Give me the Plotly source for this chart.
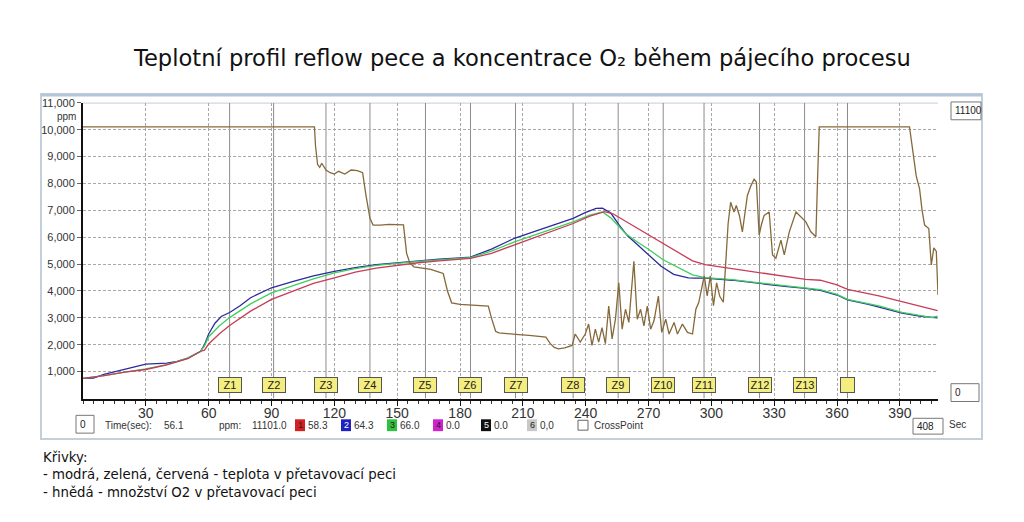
import plotly.graph_objects as go

# --- data ---
zone_names = ["Z1", "Z2", "Z3", "Z4", "Z5", "Z6", "Z7", "Z8", "Z9", "Z10", "Z11", "Z12", "Z13", ""]
zone_times = [70, 91, 116, 137, 163.5, 185, 206.5, 234, 255.5, 277, 296.5, 323, 344.5, 365]

x_ticks = [30, 60, 90, 120, 150, 180, 210, 240, 270, 300, 330, 360, 390]
y_ticks = [1000, 2000, 3000, 4000, 5000, 6000, 7000, 8000, 9000, 10000, 11000]

blue_time = [0, 5, 10, 20, 30, 40, 45, 50, 56, 58, 60, 63, 66, 70, 75, 80, 85, 90, 100, 110,
             120, 130, 140, 150, 160, 170, 180, 185, 195, 206, 215, 225, 234, 240, 245, 248, 252, 256, 260, 265,
             270, 276, 282, 289, 292, 297, 310, 323, 335, 345, 352, 360, 365, 375, 391, 400, 408]
blue_temp = [750, 760, 900, 1100, 1280, 1320, 1380, 1500, 1750, 2000, 2400, 2800, 3050, 3200, 3450, 3750, 3950, 4120, 4350, 4560,
             4730, 4870, 4980, 5050, 5120, 5180, 5230, 5260, 5560, 5960, 6200, 6450, 6700, 6920, 7070, 7080, 6900, 6450, 6050, 5700,
             5350, 4920, 4620, 4490, 4480, 4480, 4400, 4270, 4170, 4100, 4020, 3850, 3670, 3500, 3180, 3060, 3000]

green_time = [0, 10, 20, 30, 40, 50, 56, 58, 60, 65, 70, 80, 90, 100, 110, 120, 130, 140, 150, 160,
              170, 180, 185, 195, 206, 220, 234, 242, 248, 252, 259, 265, 270, 277, 285, 291, 297, 310, 323, 335,
              345, 352, 360, 365, 380, 391, 400, 405, 408]
green_temp = [750, 850, 980, 1100, 1260, 1500, 1750, 1950, 2300, 2700, 3010, 3520, 3930, 4200, 4450, 4670, 4830, 4950, 5030, 5100,
              5160, 5210, 5240, 5480, 5830, 6200, 6570, 6820, 6940, 6720, 6140, 5800, 5550, 5160, 4850, 4600, 4500, 4420, 4300, 4200,
              4120, 4050, 3870, 3690, 3450, 3200, 3080, 3010, 3060]

red_time = [0, 10, 20, 30, 40, 50, 56, 58, 60, 65, 70, 80, 90, 100, 110, 120, 130, 140, 150, 160,
            170, 180, 185, 195, 206, 220, 234, 242, 249, 253, 260, 270, 280, 291, 297, 310, 323, 335, 345, 352,
            360, 365, 380, 391, 400, 408]
red_temp = [750, 850, 980, 1080, 1250, 1480, 1750, 1800, 2030, 2400, 2720, 3250, 3690, 4000, 4280, 4490, 4700, 4850, 4950, 5050,
            5120, 5180, 5210, 5400, 5710, 6100, 6510, 6780, 6950, 6870, 6550, 6100, 5650, 5120, 4980, 4830, 4670, 4530, 4430, 4400,
            4230, 4060, 3820, 3600, 3420, 3270]

o2_time = [0, 110.5, 111, 112, 113, 114, 116, 118, 120, 122,
           125, 128, 131, 133.5, 135, 137, 138.5, 142, 146, 150,
           153, 154.5, 156, 158, 162, 166, 170, 172, 174, 176,
           180, 185, 190, 193.5, 195, 197, 198.5, 203, 208, 213,
           218, 221, 223, 225, 227, 230, 233.5, 235, 237.4, 239.8,
           241.4, 243, 244.6, 246.2, 247.8, 249.4, 251, 252.6, 254.2, 255.8,
           257.4, 259, 260.6, 263, 264.6, 266.2, 267.8, 269.4, 271, 272.6,
           274.7, 276.3, 278.2, 279.8, 282.2, 283.8, 286.2, 288.6, 291, 292.6,
           294, 295, 296.6, 298, 299.5, 301, 302.5, 304, 305.7, 306.8,
           308, 309.2, 310.8, 311.9, 313.4, 314.8, 317.2, 318.8, 320.4, 321.5,
           322.8, 324, 325.2, 327.6, 329.2, 330.8, 333.2, 334.8, 337.2, 340.4,
           342, 345.1, 347.5, 349.9, 350.7, 351.5, 394.6, 396.2, 397.8, 399.4,
           400.6, 401.8, 403.8, 405, 406.2, 407.4, 408.2]
o2_ppm = [10100, 10100, 9400, 8700, 8600, 8750, 8500, 8400, 8350, 8450,
          8350, 8500, 8480, 8400, 7600, 6700, 6450, 6450, 6480, 6470,
          6460, 5400, 5050, 4900, 4850, 4800, 4700, 4650, 4000, 3560,
          3500, 3480, 3470, 3440, 3000, 2500, 2440, 2400, 2380, 2350,
          2300, 2280, 2050, 1900, 1850, 1880, 1975, 2400, 2100, 2400,
          2770, 1975, 2580, 2100, 2640, 2040, 3440, 2220, 2950, 4300,
          2580, 3320, 2830, 5100, 2950, 3320, 2700, 3440, 2580, 2890,
          3810, 2460, 2950, 2400, 2830, 2400, 2770, 2460, 2400, 3320,
          3580, 3930, 4560, 3820, 4560, 3450, 4300, 3800, 3580, 4970,
          6500, 7300, 6940, 7180, 6800, 6200, 7550, 7900, 8160, 8050,
          6080, 6500, 6810, 6940, 5340, 5220, 5890, 5340, 6200, 6940,
          6810, 6570, 6200, 6020, 8160, 10100, 10100, 9260, 8280, 7800,
          7000, 6450, 6320, 4970, 5600, 5470, 3850]

probe_labels = ["1", "2", "3", "4", "5", "6"]
probe_values = ["58.3", "64.3", "66.0", "0.0", "0.0", "0,0"]
probe_colors = ["#d42020", "#2020c0", "#30c040", "#d020d0", "#101010", "#c8c8c8"]

W, H = 1024, 522
OFF = 8  # page body margin of the html page

def px(x):
    return (x - OFF) / W

def py(y):
    return 1 - (y - OFF) / H

fig = go.Figure()

line_w = 1.3
fig.add_trace(go.Scatter(x=blue_time, y=blue_temp, mode="lines", line=dict(color="#2b2b9e", width=line_w)))
fig.add_trace(go.Scatter(x=green_time, y=green_temp, mode="lines", line=dict(color="#3fcf5c", width=line_w)))
fig.add_trace(go.Scatter(x=red_time, y=red_temp, mode="lines", line=dict(color="#c83c58", width=line_w)))
fig.add_trace(go.Scatter(x=o2_time, y=o2_ppm, mode="lines", line=dict(color="#85693a", width=line_w)))

shapes = []
# outer panel of the profiler window
shapes.append(dict(type="rect", xref="paper", yref="paper", x0=px(41), x1=px(982), y0=py(438), y1=py(89),
                   line=dict(color="#c3d0dc", width=2), layer="below"))
shapes.append(dict(type="line", xref="paper", yref="paper", x0=px(41), x1=px(982), y0=py(90), y1=py(90),
                   line=dict(color="#b4c6d8", width=3), layer="below"))
# solid zone boundaries
for t in zone_times:
    shapes.append(dict(type="line", xref="x", yref="y", x0=t, x1=t, y0=0, y1=11000,
                       line=dict(color="#8c8c8c", width=1), layer="below"))
# top border
shapes.append(dict(type="line", xref="x", yref="y", x0=0, x1=408.2, y0=11000, y1=11000,
                   line=dict(color="#8c8c8c", width=1), layer="below"))

annotations = []
font_ui = "Liberation Sans"
for name, t in zip(zone_names, zone_times):
    annotations.append(dict(x=t, y=520, xref="x", yref="y", text=name if name else " ",
                            showarrow=False, font=dict(family=font_ui, size=11, color="#222"),
                            bgcolor="#f4ee80", bordercolor="#555", borderwidth=1,
                            width=20 if name else 11, height=12, borderpad=1))

annotations.append(dict(x=px(78), y=py(112), xref="paper", yref="paper", text="ppm", showarrow=False,
                        xanchor="right", yanchor="middle", font=dict(family=font_ui, size=10, color="#333")))

# bottom status row
def ui_text(x, y, text, size=10, anchor="left", color="#333"):
    annotations.append(dict(x=px(x), y=py(y), xref="paper", yref="paper", text=text, showarrow=False,
                            xanchor=anchor, yanchor="middle", borderpad=0,
                            font=dict(family=font_ui, size=size, color=color)))

def ui_box(x0, x1, y0, y1, text):
    shapes.append(dict(type="rect", xref="paper", yref="paper", x0=px(x0), x1=px(x1), y0=py(y1), y1=py(y0),
                       line=dict(color="#777", width=1), fillcolor="white"))
    ui_text(x0 + 3, (y0 + y1) / 2, text, size=10, color="#222")

ui_box(76, 94, 414, 432, "0")
ui_text(104, 424, "Time(sec):")
ui_text(163, 424, "56.1")
ui_text(218, 424, "ppm:")
ui_text(251, 424, "11101.0")
probe_x = [295, 341, 387, 433, 481, 527]
for lab, val, col, x in zip(probe_labels, probe_values, probe_colors, probe_x):
    shapes.append(dict(type="rect", xref="paper", yref="paper", x0=px(x), x1=px(x + 10), y0=py(430), y1=py(418),
                       line=dict(width=0), fillcolor=col))
    ui_text(x + 5, 424, lab, size=9, anchor="center", color="#fff" if lab in ("2", "5") else "#222")
    ui_text(x + 12, 424, val)
shapes.append(dict(type="rect", xref="paper", yref="paper", x0=px(578), x1=px(588), y0=py(429), y1=py(419),
                   line=dict(color="#666", width=1), fillcolor="white"))
ui_text(593, 424, "CrossPoint")
ui_box(913, 943, 417, 433, "408")
ui_text(948, 423, "Sec")
ui_box(951, 981, 97, 115, "11100")
ui_box(951, 979, 382, 400, "0")

# title and notes
annotations.append(dict(x=px(522), y=py(53), xref="paper", yref="paper",
                        text="Teplotní profil reflow pece a koncentrace O₂ během pájecího procesu",
                        showarrow=False, xanchor="center", yanchor="middle",
                        font=dict(family="DejaVu Sans", size=22.6, color="#111")))
annotations.append(dict(x=px(41), y=py(447), xref="paper", yref="paper", align="left",
                        text="Křivky:<br>- modrá, zelená, červená - teplota v přetavovací peci"
                             "<br>- hnědá - množství O2 v přetavovací peci",
                        showarrow=False, xanchor="left", yanchor="top",
                        font=dict(family="DejaVu Sans", size=13.3, color="#111")))

fig.update_layout(
    width=W, height=H, margin=dict(l=0, r=0, t=0, b=0),
    paper_bgcolor="white", plot_bgcolor="white", showlegend=False,
    shapes=shapes, annotations=annotations,
    xaxis=dict(domain=[px(83), px(938)], range=[0, 408.2], tickvals=x_ticks,
               showline=True, linecolor="#111", linewidth=2, ticks="outside", ticklen=5, tickcolor="#111",
               ticklabelstandoff=-4,
               tickfont=dict(family=font_ui, size=14, color="#333"),
               showgrid=True, gridcolor="#a8a8a8", griddash="3px,2px", gridwidth=1, zeroline=False,
               minor=dict(dtick=5, ticks="outside", ticklen=3, tickcolor="#333", showgrid=False)),
    yaxis=dict(domain=[py(397), py(97.8)], range=[0, 11000], tickvals=y_ticks,
               ticktext=[f"{v:,}" for v in y_ticks],
               showline=True, linecolor="#111", linewidth=2, ticks="outside", ticklen=4, tickcolor="#666",
               tickfont=dict(family=font_ui, size=11, color="#333"),
               showgrid=True, gridcolor="#a8a8a8", griddash="3px,2px", gridwidth=1, zeroline=False),
)

fig.write_html("out.html")
